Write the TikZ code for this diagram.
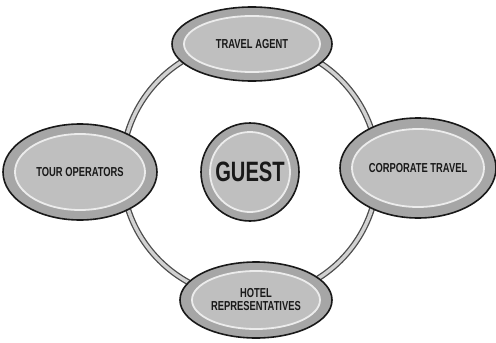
\documentclass[tikz,border=0pt]{standalone}
\usepackage{fontspec}
\newfontfamily\podfont[FakeStretch=0.72]{Liberation Sans}
\usepackage{xcolor}

\begin{document}
\begin{tikzpicture}[x=1pt,y=-1pt,
    ringout/.style={black!70,line width=6pt},
    ringin/.style={gray!35,line width=3.4pt},
    podrim/.style={fill=gray!70,draw=black!90,line width=1.6pt},
    podshine/.style={draw=white!85!gray,line width=1.8pt,fill=gray!50},
    podtext/.style={font=\podfont\bfseries\fontsize{13}{13}\selectfont,text=black!90,align=center}]
    \useasboundingbox (0,0) rectangle (496,343);
    \fill[white] (0,0) rectangle (496,343);

    % ring behind everything
    \draw[ringout] (250,170) circle (128);
    \draw[ringin] (250,170) circle (128);

    % travel agent (top)
    \draw[podrim] (252,44) ellipse (80 and 37);
    \draw[podshine] (252,44) ellipse (68 and 28);
    \node[podtext] (agent) at (252,44) {TRAVEL AGENT};

    % tour operators (left)
    \draw[podrim] (80,172) ellipse (77 and 48);
    \draw[podshine] (80,172) ellipse (65 and 38);
    \node[podtext] (tour) at (80,172) {TOUR OPERATORS};

    % corporate travel (right)
    \draw[podrim] (418,168) ellipse (78 and 50);
    \draw[podshine] (418,168) ellipse (66 and 39);
    \node[podtext] (corp) at (418,168) {CORPORATE TRAVEL};

    % hotel representatives (bottom)
    \draw[podrim] (256,300) ellipse (76 and 38);
    \draw[podshine] (256,300) ellipse (64 and 29);
    \node[podtext] (hotel) at (256,300) {HOTEL\\REPRESENTATIVES};

    % guest in the middle
    \draw[podrim] (250,172) circle (49);
    \draw[podshine] (250,172) circle (40);
    \node[podtext,font=\podfont\bfseries\fontsize{28}{28}\selectfont] (guest) at (250,172) {GUEST};
\end{tikzpicture}
\end{document}
